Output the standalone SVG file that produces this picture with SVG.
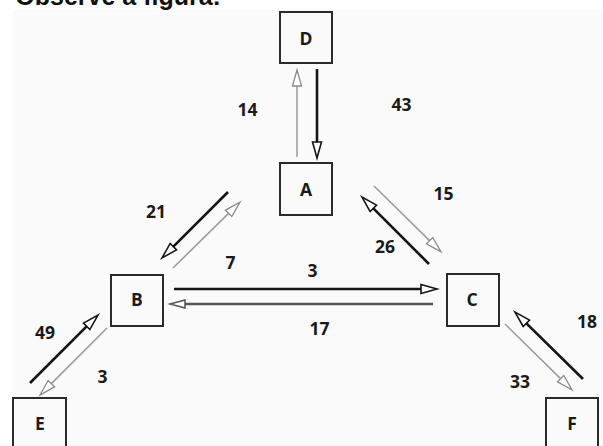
<svg xmlns="http://www.w3.org/2000/svg" width="603" height="446" viewBox="0 0 603 446">
<style>
.node rect{fill:none;stroke:#2a2a2a;stroke-width:2}
.node text,.lbl{font-family:"Open Sans","DejaVu Sans",sans-serif;font-weight:700;font-size:17.5px;fill:#1a1a1a;text-anchor:middle}
.dk{stroke:#151515;stroke-width:2.6;fill:none}
.md{stroke:#555;stroke-width:2.6;fill:none}
.lt{stroke:#9a9a9a;stroke-width:1.5;fill:none}
</style>
<defs>
<marker id="mdk" markerUnits="userSpaceOnUse" markerWidth="22" markerHeight="14" refX="8" refY="7" orient="auto">
<path d="M2,2.5 L18,7 L2,11.5 Z" fill="#fff" stroke="#151515" stroke-width="1.6"/>
</marker>
<marker id="mmd" markerUnits="userSpaceOnUse" markerWidth="22" markerHeight="14" refX="8" refY="7" orient="auto">
<path d="M3,3 L18,7 L3,11 Z" fill="#fff" stroke="#555" stroke-width="1.5"/>
</marker>
<marker id="mlt" markerUnits="userSpaceOnUse" markerWidth="22" markerHeight="14" refX="8" refY="7" orient="auto">
<path d="M2,2.5 L18,7 L2,11.5 Z" fill="#fff" stroke="#8a8a8a" stroke-width="1.3"/>
</marker>
</defs>
<rect x="0" y="0" width="603" height="446" fill="#ffffff"/>
<rect x="13" y="10" width="590" height="436" fill="#fafafa"/>
<text x="0" y="5" font-family="'Liberation Sans',Arial,sans-serif" font-weight="700" font-size="25" fill="#111">- Observe a figura:</text>
<g id="connectors">
<line class="lt" x1="297" y1="157" x2="297" y2="80" marker-end="url(#mlt)"/>
<line class="dk" x1="317" y1="69" x2="317" y2="148" marker-end="url(#mdk)" stroke-width="3"/>
<line class="dk" x1="228" y1="192" x2="169.1" y2="250.9" marker-end="url(#mdk)"/>
<line class="lt" x1="173" y1="268" x2="232.9" y2="209.1" marker-end="url(#mlt)"/>
<line class="dk" x1="174" y1="289" x2="427" y2="289" marker-end="url(#mdk)" stroke-width="2"/>
<line class="md" x1="433" y1="304" x2="180" y2="304" marker-end="url(#mmd)"/>
<line class="lt" x1="374" y1="186" x2="433.9" y2="244.9" marker-end="url(#mlt)"/>
<line class="dk" x1="429" y1="264" x2="369.1" y2="204.1" marker-end="url(#mdk)"/>
<line class="dk" x1="30" y1="383" x2="90.9" y2="322.1" marker-end="url(#mdk)"/>
<line class="lt" x1="107" y1="328" x2="47.1" y2="387.9" marker-end="url(#mlt)"/>
<line class="dk" x1="583" y1="379" x2="522.1" y2="319.1" marker-end="url(#mdk)"/>
<line class="lt" x1="505" y1="324" x2="564.9" y2="382.9" marker-end="url(#mlt)"/>
</g>
<g id="labels">
<text class="lbl" x="247.5" y="116">14</text>
<text class="lbl" x="401.5" y="111">43</text>
<text class="lbl" x="156" y="217.5">21</text>
<text class="lbl" x="230.5" y="268.5">7</text>
<text class="lbl" x="312.5" y="277">3</text>
<text class="lbl" x="319.5" y="335">17</text>
<text class="lbl" x="443.5" y="200">15</text>
<text class="lbl" x="385" y="253">26</text>
<text class="lbl" x="587" y="327.5">18</text>
<text class="lbl" x="520" y="388">33</text>
<text class="lbl" x="45" y="338.5">49</text>
<text class="lbl" x="102.5" y="382.5">3</text>
</g>
<g id="node-D" class="node"><rect x="280" y="12" width="52" height="51"/><text x="306" y="44.5">D</text></g>
<g id="node-A" class="node"><rect x="280" y="163" width="52" height="52"/><text x="306" y="196">A</text></g>
<g id="node-B" class="node"><rect x="111" y="275" width="52" height="51"/><text x="137" y="306">B</text></g>
<g id="node-C" class="node"><rect x="447" y="274" width="52" height="52"/><text x="472" y="306">C</text></g>
<g id="node-E" class="node"><rect x="13" y="398" width="53" height="54"/><text x="40" y="429.5">E</text></g>
<g id="node-F" class="node"><rect x="546" y="398" width="52" height="54"/><text x="572" y="429.5">F</text></g>
</svg>
